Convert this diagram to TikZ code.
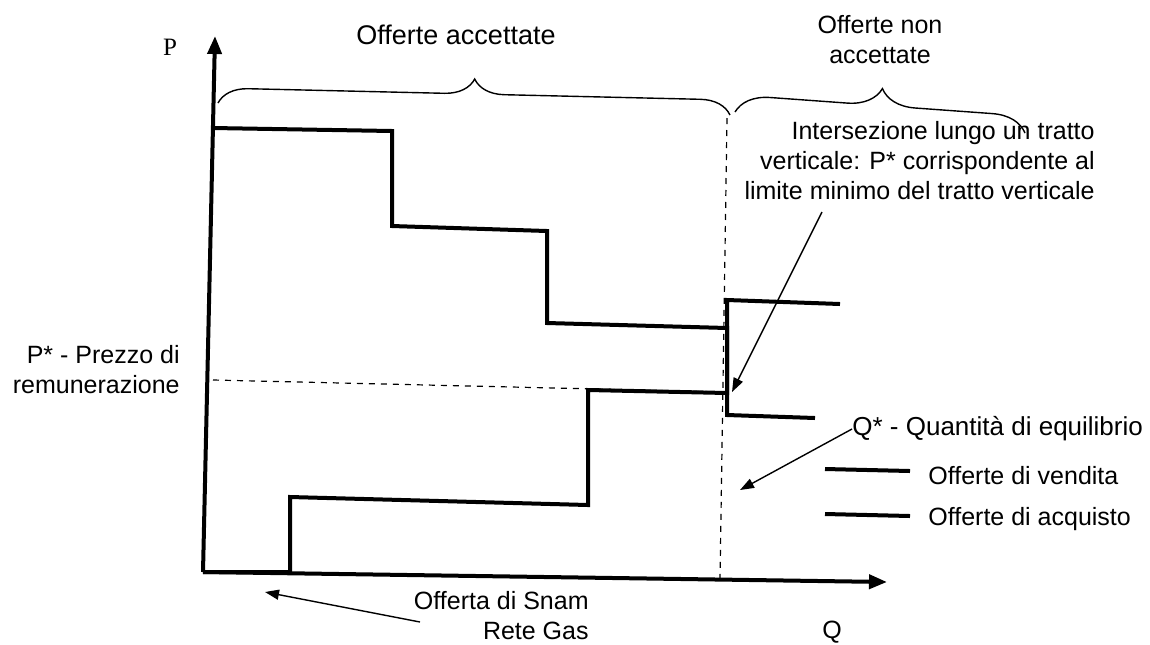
\documentclass[tikz,border=0pt]{standalone}
\usepackage{fontspec}
\setmainfont{Liberation Sans}
\newfontfamily\axisfont{Liberation Serif}
\usetikzlibrary{positioning,arrows.meta,decorations.pathreplacing}

\begin{document}
\begin{tikzpicture}[x=0.5pt,y=-0.5pt,
    axis/.style={line width=2pt,-{Triangle[length=9pt,width=7pt]}},
    curve/.style={line width=2pt},
    guide/.style={dashed,line width=0.6pt},
    note/.style={font=\fontsize{12.5}{15}\selectfont,inner sep=0pt},
    pointer/.style={line width=0.7pt,-{Triangle[length=7pt,width=5pt]}},
    bracket/.style={decorate,decoration={brace,amplitude=#1},line width=0.7pt}]

\useasboundingbox (0,0) rectangle (1150,644);

% assi
\coordinate (O) at (203,572);
\coordinate (ytop) at (215,36);
\coordinate (xend) at (887,582);
\draw[axis] (O) -- (ytop);
\draw[axis] (O) -- (xend);
\node[note,font=\axisfont\fontsize{12.5}{15}\selectfont] (P) at (170,47) {P};
\node[note] (Q) at (832,632) {Q};

% curve a gradini
\draw[curve] (213,128) -- (392,131) -- (392,226) -- (547,231) -- (547,323)
    -- (727,328) -- (727,415) -- (815,418);
\draw[curve] (O) -- (290,572) -- (290,497) -- (588,505) -- (588,390)
    -- (727,393) -- (727,300) -- (840,304);

% tratteggi
\coordinate (pstar) at (213,380);
\coordinate (pend) at (725,392);
\coordinate (qtop) at (727,118);
\coordinate (qstar) at (720,580);
\draw[guide] (pstar) -- (pend);
\draw[guide] (qtop) -- (qstar);

% graffe
\draw[bracket=15pt] (218,103) -- (730,115);
\draw[bracket=17pt] (735,112) -- (1025,133);
\node[note,font=\fontsize{13.5}{15}\selectfont] (acc) at (456,35) {Offerte accettate};
\node[note,align=center] (nonacc) at (880,40) {Offerte non\\accettate};

% etichette
\node[note,align=right,anchor=north east] (inters) at (1095,121)
    {Intersezione lungo un tratto\\verticale: P* corrispondente al\\limite minimo del tratto verticale};
\node[note,align=right,anchor=north east] (prezzo) at (180,345)
    {P* - Prezzo di\\remunerazione};
\node[note,anchor=west,font=\fontsize{13}{15}\selectfont] (quant) at (852,429) {Q* - Quantità di equilibrio};
\node[note,align=right,anchor=north east] (snam) at (589,591)
    {Offerta di Snam\\Rete Gas};

% frecce
\coordinate (intfrom) at (822,212);
\coordinate (intto) at (732,392);
\coordinate (qto) at (740,490);
\coordinate (snamfrom) at (420,622);
\coordinate (snamto) at (265,592);
\draw[pointer] (intfrom) -- (intto);
\draw[pointer] (quant.west) -- (qto);
\draw[pointer] (snamfrom) -- (snamto);

% legenda
\coordinate (leg1a) at (825,469);
\coordinate (leg1b) at (910,471);
\coordinate (leg2a) at (825,514);
\coordinate (leg2b) at (910,516);
\draw[curve] (leg1a) -- (leg1b);
\draw[curve] (leg2a) -- (leg2b);
\node[note,anchor=west] (vend) at (928,476) {Offerte di vendita};
\node[note,anchor=west] (acq) at (928,519) {Offerte di acquisto};
\end{tikzpicture}
\end{document}
